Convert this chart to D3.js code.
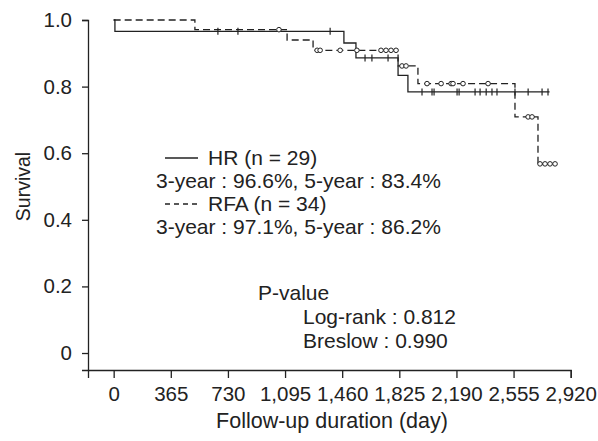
<!DOCTYPE html>
<html>
<head>
<meta charset="utf-8">
<script src="https://cdn.jsdelivr.net/npm/d3@7"></script>
<style>
  body { margin: 0; background: #fff; }
  text { font-family: "Liberation Sans", Arial, sans-serif; fill: #222; }
</style>
</head>
<body>
<svg width="598" height="441"></svg>
<script>
  // tick values
  const xTicks = [0, 365, 730, 1095, 1460, 1825, 2190, 2555, 2920];
  const yTicks = [0, 0.2, 0.4, 0.6, 0.8, 1.0];

  // HR group: [day, survival] at each drop, then censored days
  const hrSteps = [[0, 1], [8, 0.966], [1471, 0.931], [1548, 0.886], [1817, 0.834], [1880, 0.784]];
  const hrLast = 2785;
  const hrCensor = [666, 794, 1383, 1606, 1650, 1753, 1970, 2034, 2047, 2194, 2207,
    2309, 2341, 2380, 2417, 2449, 2564, 2648, 2737, 2775];

  // RFA group
  const rfaSteps = [[0, 1], [519, 0.971], [1108, 0.940], [1274, 0.909], [1817, 0.862],
    [1944, 0.809], [2564, 0.709], [2711, 0.568]];
  const rfaLast = 2820;
  const rfaCensor = [1056, 1300, 1319, 1447, 1554, 1708, 1740, 1772, 1804, 1842, 1868,
    2002, 2092, 2156, 2168, 2232, 2392, 2648, 2673, 2724, 2756, 2788, 2820];

  const legendLines = ['HR (n = 29)', '3-year : 96.6%, 5-year : 83.4%',
    'RFA (n = 34)', '3-year : 97.1%, 5-year : 86.2%'];
  const pLines = ['P-value', 'Log-rank : 0.812', 'Breslow : 0.990'];

  const svg = d3.select('svg');
  const ink = '#222';
  const tickFs = 20.5;
  const textFs = 21;

  // domains stretched a little so the axis lines meet at the corner
  const x = d3.scaleLinear().domain([-164, 2920]).range([88, 570.7]);
  const y = d3.scaleLinear().domain([-0.051, 1]).range([370, 20]);

  const xAxis = svg.append('g')
    .attr('transform', 'translate(0,370)')
    .call(d3.axisBottom(x).tickValues(xTicks).tickSizeOuter(0).tickSize(8)
      .tickPadding(8).tickFormat(d3.format(',')));

  const yAxis = svg.append('g')
    .attr('transform', 'translate(88,0)')
    .call(d3.axisLeft(y).tickValues(yTicks).tickSizeOuter(0).tickSize(6)
      .tickPadding(10).tickFormat(d => d === 0 ? '0' : d3.format('.1f')(d)));

  [xAxis, yAxis].forEach(a => {
    a.selectAll('path, line').attr('stroke', ink).attr('stroke-width', 1.3);
    a.selectAll('text').attr('font-size', tickFs).style('fill', ink)
      .attr('font-family', '"Liberation Sans", Arial, sans-serif');
  });

  svg.append('text')
    .attr('x', 332).attr('y', 428)
    .attr('text-anchor', 'middle').attr('font-size', 21.5)
    .text('Follow-up duration (day)');

  svg.append('text')
    .attr('transform', `translate(30,${y(0.5)}) rotate(-90)`)
    .attr('text-anchor', 'middle').attr('font-size', 19.5)
    .text('Survival');

  const line = d3.line()
    .x(d => x(d[0])).y(d => y(d[1]))
    .curve(d3.curveStepAfter);

  const valueAt = (steps, t) => {
    let v = steps[0][1];
    steps.forEach(s => { if (s[0] <= t) v = s[1]; });
    return v;
  };

  function drawCurve(steps, last, dash) {
    const pts = steps.concat([[last, steps[steps.length - 1][1]]]);
    svg.append('path')
      .attr('d', line(pts))
      .attr('fill', 'none')
      .attr('stroke', ink)
      .attr('stroke-width', 1.3)
      .attr('stroke-dasharray', dash);
  }

  drawCurve(rfaSteps, rfaLast, '7,4');
  drawCurve(hrSteps, hrLast, null);

  // HR censored: small vertical ticks
  svg.append('g').selectAll('line')
    .data(hrCensor)
    .join('line')
      .attr('x1', d => x(d)).attr('x2', d => x(d))
      .attr('y1', d => y(valueAt(hrSteps, d)) - 3.5)
      .attr('y2', d => y(valueAt(hrSteps, d)) + 3.5)
      .attr('stroke', ink).attr('stroke-width', 1.2);

  // RFA censored: open circles
  svg.append('g').selectAll('circle')
    .data(rfaCensor)
    .join('circle')
      .attr('cx', d => x(d))
      .attr('cy', d => y(valueAt(rfaSteps, d)))
      .attr('r', 2.3)
      .attr('fill', '#fff')
      .attr('stroke', ink).attr('stroke-width', 1);

  // legend
  const lg = svg.append('g');
  lg.append('line').attr('x1', 165).attr('x2', 198).attr('y1', 158).attr('y2', 158)
    .attr('stroke', ink).attr('stroke-width', 1.3);
  lg.append('line').attr('x1', 165).attr('x2', 198).attr('y1', 204).attr('y2', 204)
    .attr('stroke', ink).attr('stroke-width', 1.3).attr('stroke-dasharray', '5,4');
  lg.selectAll('text')
    .data(legendLines)
    .join('text')
      .attr('x', (d, i) => i % 2 === 0 ? 208 : 156)
      .attr('y', (d, i) => 165 + i * 23)
      .attr('font-size', textFs)
      .text(d => d);

  svg.append('g').selectAll('text')
    .data(pLines)
    .join('text')
      .attr('x', (d, i) => i === 0 ? 258 : 303)
      .attr('y', (d, i) => 300 + i * 24)
      .attr('font-size', textFs)
      .text(d => d);
</script>
</body>
</html>
